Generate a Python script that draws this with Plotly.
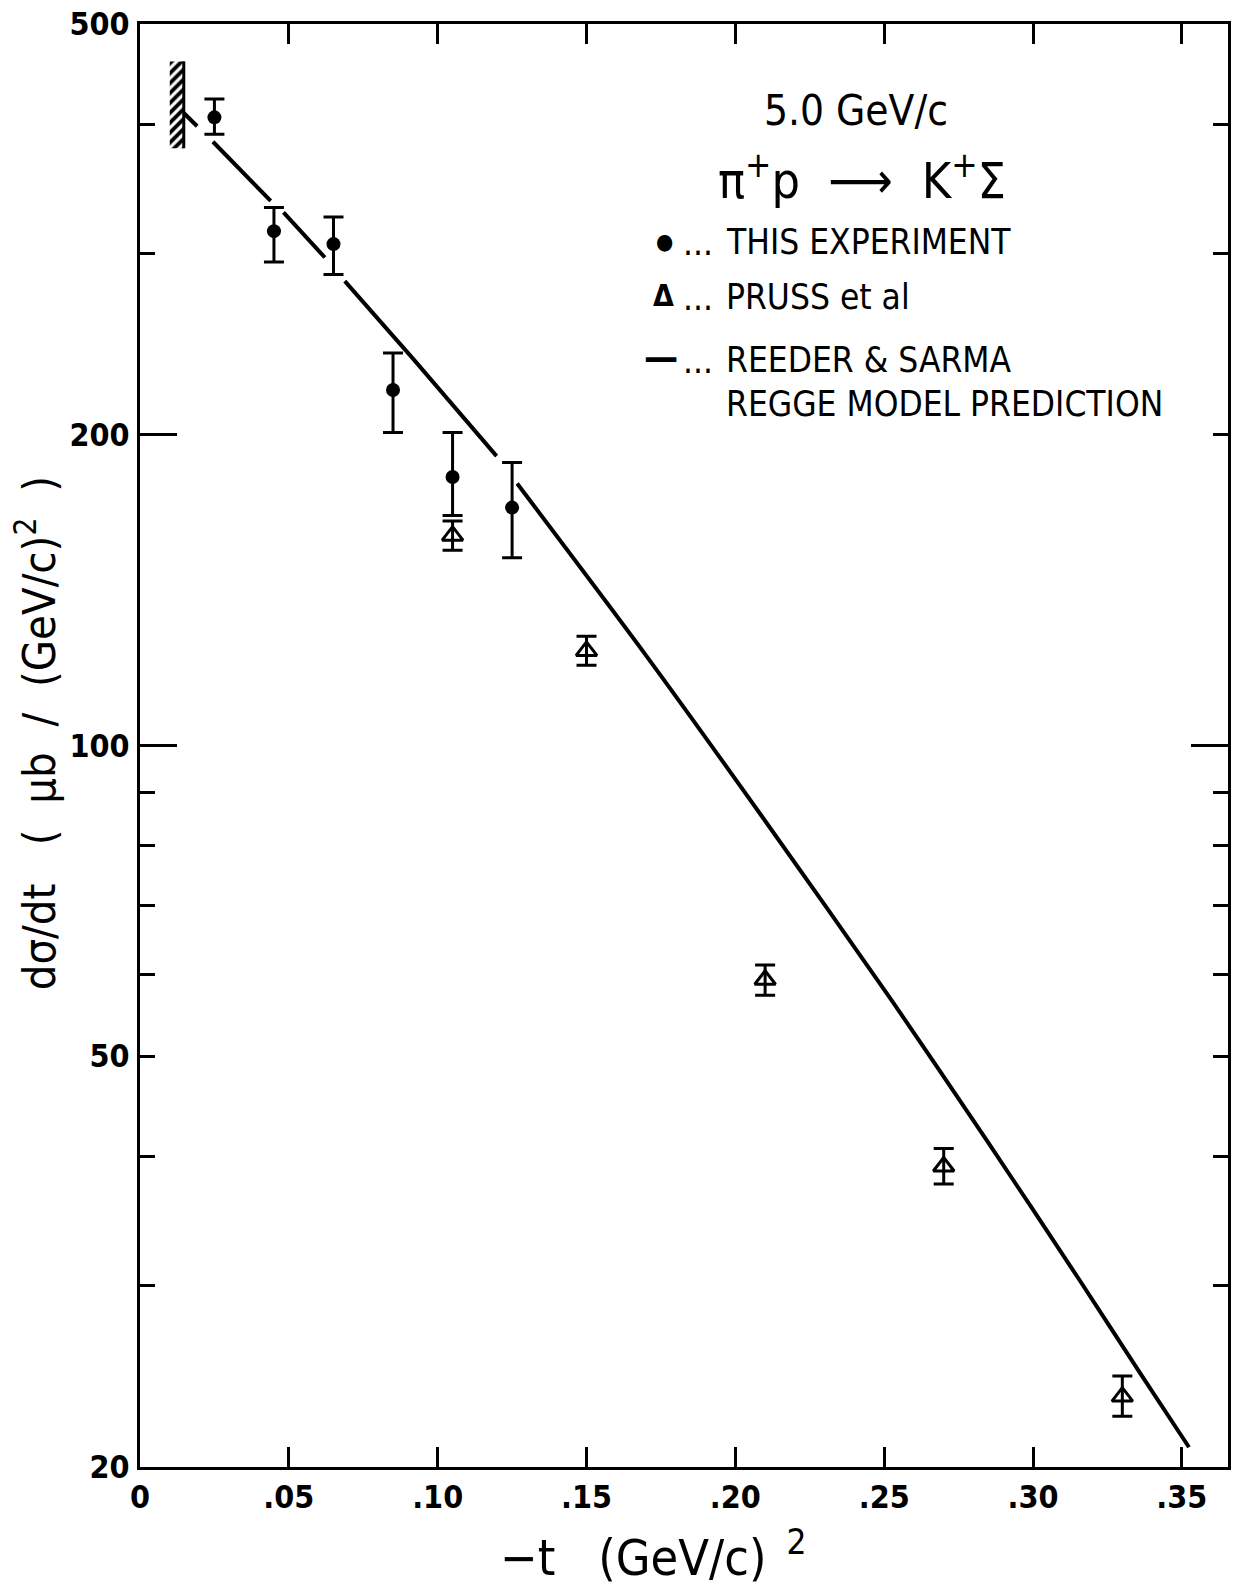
import math
import plotly.graph_objects as go

# ---- data -------------------------------------------------------------
# pi+ p -> K+ Sigma at 5.0 GeV/c, d(sigma)/dt in microbarn/(GeV/c)^2

# this experiment (filled circles)
t_exp = [0.025, 0.045, 0.065, 0.085, 0.105, 0.125]
dsdt_exp = [406, 315, 306, 221, 182, 170]
err_exp_up = [17, 17, 19, 19, 19, 18]
err_exp_dn = [15, 21, 20, 20, 15, 18]

# Pruss et al (open triangles)
t_pruss = [0.105, 0.15, 0.21, 0.27, 0.33]
dsdt_pruss = [159.7, 123.5, 59.3, 39.1, 23.4]
err_pruss_up = [5.3, 4.1, 2.0, 1.6, 1.1]
err_pruss_dn = [5.1, 3.9, 2.0, 1.5, 1.0]

# Reeder & Sarma Regge model prediction (None = pen lifted near error bars)
t_regge = [0.0147, 0.0192, None, 0.0245, 0.0439, None, 0.0482, 0.0621, None,
           0.0688, 0.0917, 0.1198, None, 0.1267, 0.1704, 0.2089, 0.2524,
           0.2848, 0.3161, 0.3362, 0.3524]
dsdt_regge = [410, 398, None, 384.5, 337, None, 328.4, 297, None,
              281.8, 237, 190.7, None, 179.4, 121.8, 85.4, 56.7,
              41.3, 30.2, 24.6, 20.9]

# kinematic limit -t_min, marked by a hatched bar
t_min = 0.0147
t_min_hatch_left = 0.0100
t_min_band = [379, 460]

# axis ticks
x_tickvals = [0, 0.05, 0.10, 0.15, 0.20, 0.25, 0.30, 0.35]
x_ticktext = ["0", ".05", ".10", ".15", ".20", ".25", ".30", ".35"]
y_tickvals = [20, 50, 100, 200, 500]
y_ticktext = ["20", "50", "100", "200", "500"]
y_minor_vals = [30, 40, 60, 70, 80, 90, 300, 400]
y_long_left = [100, 200]
y_long_right = [100]

x_range = [0, 0.3655]
y_range = [math.log10(20), math.log10(500)]

# ---- layout geometry ----------------------------------------------------
W, H = 1235, 1591
L, R, T, B = 140, 1231, 24, 1467
FONT = "DejaVu Sans Condensed, Liberation Sans Narrow, DejaVu Sans, sans-serif"
INK = "black"
NB = "\u00a0"


def px(x):
    return (x - L) / (R - L)


def py(y):
    return (B - y) / (B - T)


fig = go.Figure()

# hatched kinematic-limit bar
fig.add_trace(go.Scatter(
    x=[t_min_hatch_left, t_min, t_min, t_min_hatch_left, t_min_hatch_left],
    y=[t_min_band[0], t_min_band[0], t_min_band[1], t_min_band[1], t_min_band[0]],
    mode="lines", fill="toself", line=dict(width=0, color="rgba(0,0,0,0)"),
    fillcolor="rgba(0,0,0,0)",
    fillpattern=dict(shape="/", size=7, solidity=0.55, fgcolor=INK,
                     bgcolor="rgba(0,0,0,0)", fillmode="replace"),
    showlegend=False, hoverinfo="skip"))
fig.add_trace(go.Scatter(
    x=[t_min, t_min], y=t_min_band, mode="lines",
    line=dict(color=INK, width=3), showlegend=False, hoverinfo="skip"))

# Regge model curve
fig.add_trace(go.Scatter(
    x=t_regge, y=dsdt_regge, mode="lines", connectgaps=False,
    line=dict(color=INK, width=4, shape="spline", smoothing=0.8),
    name="REEDER & SARMA", showlegend=False))

# Pruss et al
fig.add_trace(go.Scatter(
    x=t_pruss, y=dsdt_pruss, mode="markers", name="PRUSS et al",
    marker=dict(symbol="triangle-up-open", size=18, color=INK,
                line=dict(width=3, color=INK)),
    error_y=dict(type="data", symmetric=False, array=err_pruss_up,
                 arrayminus=err_pruss_dn, color=INK, thickness=3, width=10),
    showlegend=False))

# this experiment
fig.add_trace(go.Scatter(
    x=t_exp, y=dsdt_exp, mode="markers", name="THIS EXPERIMENT",
    marker=dict(symbol="circle", size=14, color=INK),
    error_y=dict(type="data", symmetric=False, array=err_exp_up,
                 arrayminus=err_exp_dn, color=INK, thickness=3, width=10),
    showlegend=False))

# invisible anchors so the overlaid long-tick axes are drawn
fig.add_trace(go.Scatter(x=[None], y=[None], yaxis="y2", showlegend=False,
                         hoverinfo="skip"))
fig.add_trace(go.Scatter(x=[None], y=[None], yaxis="y3", showlegend=False,
                         hoverinfo="skip"))

annotations = []


def note(text, x, y, size, xanchor="center", yanchor="middle", angle=0,
         weight="normal"):
    annotations.append(dict(
        text=text, x=px(x), y=py(y), xref="paper", yref="paper",
        xanchor=xanchor, yanchor=yanchor, showarrow=False, textangle=angle,
        font=dict(family=FONT, size=size, color=INK, weight=weight)))


# header and key
note("5.0 GeV/c", 858, 111, 42)
note(f"π<sup>+</sup>p{NB}{NB}⟶{NB}{NB}K<sup>+</sup>Σ", 864, 178, 50)

note("●", 666, 241, 22)
note("...", 682, 243, 35, xanchor="left")
note("THIS EXPERIMENT", 726, 242, 35, xanchor="left")
note("Δ", 665, 295, 30, weight="bold")
note("...", 682, 298, 35, xanchor="left")
note("PRUSS et al", 726, 297, 35, xanchor="left")
note("—", 662, 357, 38, weight="bold")
note("...", 682, 361, 35, xanchor="left")
note("REEDER & SARMA", 726, 360, 35, xanchor="left")
note("REGGE MODEL PREDICTION", 726, 404, 35, xanchor="left")

# axis titles
note(f"−t{NB}{NB}{NB}(GeV/c)<sup>{NB}{NB}2</sup>", 655, 1554, 50)
note(f"dσ/dt{NB}{NB}{NB}({NB}{NB}μb{NB}{NB}/{NB}{NB}(GeV/c)<sup>2</sup>{NB}{NB})",
     36, 733, 45, angle=-90)

axis_common = dict(showline=True, linewidth=3, linecolor=INK, showgrid=False,
                   zeroline=False, ticks="inside", tickwidth=3, tickcolor=INK,
                   tickfont=dict(family=FONT, size=32, color=INK, weight="bold"))

fig.update_layout(
    width=W, height=H,
    margin=dict(l=L, r=W - R, t=T, b=H - B, pad=0),
    paper_bgcolor="white", plot_bgcolor="white",
    showlegend=False,
    font=dict(family=FONT, color=INK),
    xaxis=dict(range=x_range, tickmode="array", tickvals=x_tickvals,
               ticktext=x_ticktext, ticklen=20, mirror="ticks",
               ticklabelstandoff=0, **axis_common),
    yaxis=dict(type="log", range=y_range, tickmode="array",
               tickvals=y_tickvals, ticktext=y_ticktext, ticklen=15,
               mirror="ticks", ticklabelstandoff=1,
               minor=dict(tickmode="array", tickvals=y_minor_vals,
                          ticks="inside", ticklen=15, tickwidth=3,
                          tickcolor=INK, showgrid=False),
               **axis_common),
    yaxis2=dict(type="log", range=y_range, overlaying="y", anchor="x",
                side="left", tickmode="array", tickvals=y_long_left,
                ticks="inside", ticklen=37, tickwidth=3, tickcolor=INK,
                showticklabels=False, showline=False, showgrid=False,
                zeroline=False),
    yaxis3=dict(type="log", range=y_range, overlaying="y", anchor="x",
                side="right", tickmode="array", tickvals=y_long_right,
                ticks="inside", ticklen=37, tickwidth=3, tickcolor=INK,
                showticklabels=False, showline=False, showgrid=False,
                zeroline=False),
    annotations=annotations,
)

fig.write_html("out.html")
